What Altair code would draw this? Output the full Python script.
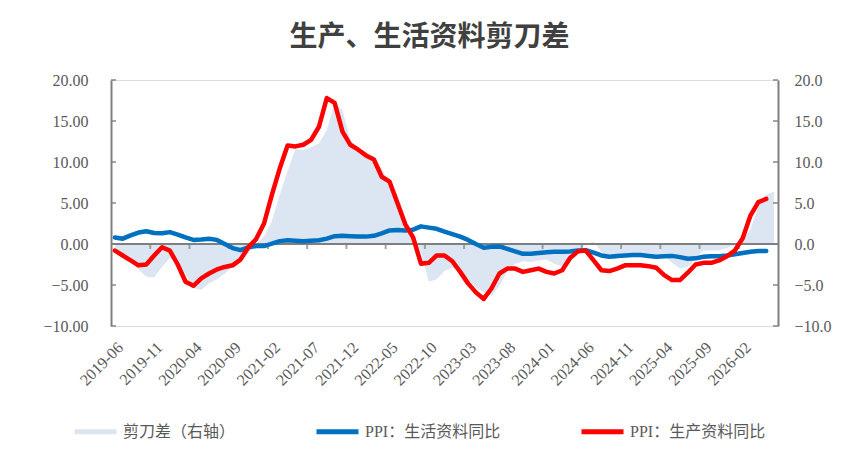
import altair as alt
import pandas as pd

# Monthly categories on the horizontal axis
MONTHS = list(pd.period_range("2019-06", periods=85, freq="M").strftime("%Y-%m"))
# Month labels shown on the category axis (every fifth month)
MONTH_TICKS = ["2019-06", "2019-11", "2020-04", "2020-09", "2021-02", "2021-07",
               "2021-12", "2022-05", "2022-10", "2023-03", "2023-08", "2024-01",
               "2024-06", "2024-11", "2025-04", "2025-09", "2026-02"]

S_SPREAD = "剪刀差（右轴）"
S_LIVING = "PPI：生活资料同比"
S_PROD = "PPI：生产资料同比"

# PPI: producer goods, YoY %
PRODUCER = [-0.8, -1.4, -2.0, -2.6, -2.5, -1.4, -0.4, -0.8, -2.5, -4.6,
            -5.1, -4.2, -3.6, -3.1, -2.8, -2.6, -1.9, -0.4, 0.6, 2.5,
            6.0, 9.2, 12.0, 11.9, 12.1, 12.7, 14.3, 17.8, 17.2, 13.7,
            12.1, 11.5, 10.8, 10.3, 8.2, 7.6, 5.0, 2.4, 0.8, -2.4,
            -2.3, -1.4, -1.4, -2.1, -3.4, -4.8, -5.9, -6.7, -5.4, -3.6,
            -3.0, -3.0, -3.4, -3.2, -3.0, -3.4, -3.6, -3.2, -1.7, -0.9,
            -0.8, -2.0, -3.2, -3.3, -3.0, -2.6, -2.6, -2.6, -2.7, -2.9,
            -3.8, -4.4, -4.4, -3.5, -2.5, -2.3, -2.3, -2.0, -1.5, -0.8,
            0.7, 3.5, 5.1, 5.5]

# PPI: consumer goods, YoY %
CONSUMER = [0.8, 0.65, 1.05, 1.4, 1.55, 1.35, 1.3, 1.45, 1.15, 0.8,
            0.5, 0.55, 0.65, 0.5, 0.0, -0.5, -0.75, -0.4, -0.25, -0.25,
            0.05, 0.35, 0.45, 0.4, 0.35, 0.4, 0.45, 0.65, 0.95, 1.0,
            0.95, 0.9, 0.9, 1.0, 1.3, 1.65, 1.7, 1.65, 1.75, 2.15,
            2.0, 1.85, 1.5, 1.2, 0.9, 0.5, 0.0, -0.45, -0.35, -0.3,
            -0.6, -0.9, -1.2, -1.2, -1.1, -1.0, -0.95, -0.95, -0.9, -0.8,
            -0.75, -1.05, -1.4, -1.55, -1.45, -1.4, -1.35, -1.35, -1.45, -1.55,
            -1.5, -1.45, -1.6, -1.8, -1.75, -1.55, -1.5, -1.5, -1.4, -1.25,
            -1.1, -0.95, -0.85, -0.85]

# Scissors gap (right axis)
SPREAD = [-0.9, -1.6, -2.1, -3.1, -4.0, -4.1, -2.8, -1.7, -2.3, -3.7,
          -5.4, -5.6, -4.8, -4.3, -3.6, -2.8, -2.1, -1.2, 0.0, 0.9,
          2.8, 6.0, 8.9, 11.6, 11.5, 11.8, 12.3, 13.9, 17.2, 16.3,
          12.7, 11.2, 10.6, 9.9, 9.3, 6.9, 6.0, 3.3, 0.8, -1.0,
          -4.6, -4.3, -3.3, -2.9, -3.3, -4.3, -5.3, -5.9, -6.3, -5.1,
          -3.3, -2.4, -2.1, -2.2, -2.0, -1.9, -2.4, -2.7, -2.3, -0.8,
          -0.1, 0.3, -1.0, -1.8, -1.8, -1.6, -1.2, -1.3, -1.3, -1.3,
          -1.4, -2.3, -3.0, -2.8, -1.7, -0.8, -0.8, -0.8, -0.5, -0.1,
          0.5, 1.8, 4.5, 6.0, 6.4]

Y_TICKS = [-10, -5, 0, 5, 10, 15, 20]

GRAY = "#7f7f7f"
TEXT = "#595959"
FONT = "Liberation Serif, Noto Sans CJK SC"

living_df = pd.DataFrame({"m": MONTHS[:len(CONSUMER)], "v": CONSUMER, "s": S_LIVING})
prod_df = pd.DataFrame({"m": MONTHS[:len(PRODUCER)], "v": PRODUCER, "s": S_PROD})
spread_df = pd.DataFrame({"m": MONTHS[:len(SPREAD)], "v": SPREAD})
ytick_df = pd.DataFrame({"v": Y_TICKS})
# tick marks on the zero line sit at the left edge of each labelled month
xtick_df = pd.DataFrame({"m": MONTH_TICKS[1:]})

xs = alt.Scale(type="band", domain=MONTHS, paddingInner=0, paddingOuter=0)
ys = alt.Scale(domain=[-10, 20], nice=False, zero=False)

color_scale = alt.Scale(domain=[S_SPREAD, S_LIVING, S_PROD],
                        range=["#dce6f2", "#0070c0", "#ff0000"])

legend = alt.Legend(title=None, orient="none", legendX=-39, legendY=328,
                    direction="horizontal", symbolType="stroke",
                    symbolStrokeWidth=5, symbolSize=1764, labelFontSize=16,
                    labelColor=TEXT, labelFont=FONT, columnPadding=70,
                    labelOffset=4, symbolOpacity=1)

x_axis = alt.Axis(values=MONTH_TICKS, orient="bottom", labelAngle=-45,
                  domain=False, ticks=False, grid=False, title=None,
                  labelFontSize=16, labelColor=TEXT, labelFont=FONT,
                  labelPadding=13)

left_axis = alt.Axis(orient="left", values=Y_TICKS, format=".2f", title=None,
                     grid=False, ticks=False, domainColor=GRAY, domainWidth=2,
                     labelPadding=23, labelFontSize=16, labelColor=TEXT,
                     labelFont=FONT)
right_axis = alt.Axis(orient="right", values=Y_TICKS, format=".1f", title=None,
                      grid=False, ticks=False, domainColor=GRAY, domainWidth=2,
                      labelPadding=16, labelFontSize=16, labelColor=TEXT,
                      labelFont=FONT)

area = alt.Chart(spread_df).mark_area(color="#dce6f2").encode(
    x=alt.X("m:O", scale=xs, axis=None, bandPosition=0.5),
    y=alt.Y("v:Q", scale=ys, axis=right_axis),
)

zero_line = alt.Chart(alt.Data(values=[{}])).mark_rule(
    color=GRAY, strokeWidth=2).encode(
    y=alt.YDatum(0, axis=None),
    x=alt.value(0),
    x2=alt.value("width"),
)

# tick marks on the zero line; this layer also carries the month labels
x_ticks = alt.Chart(xtick_df).mark_tick(
    orient="vertical", size=5, thickness=2, color=GRAY, yOffset=2.5).encode(
    x=alt.X("m:O", scale=xs, axis=x_axis, bandPosition=0),
    y=alt.YDatum(0, axis=None),
)

left_ticks = alt.Chart(ytick_df).mark_tick(
    orient="horizontal", size=5, thickness=2, color=GRAY, xOffset=2.5).encode(
    y=alt.Y("v:Q", axis=None),
    x=alt.value(0),
)
right_ticks = alt.Chart(ytick_df).mark_tick(
    orient="horizontal", size=5, thickness=2, color=GRAY, xOffset=-2.5).encode(
    y=alt.Y("v:Q", axis=None),
    x=alt.value("width"),
)

line_style = dict(strokeWidth=4.5, strokeCap="round", strokeJoin="round")

living = alt.Chart(living_df).mark_line(**line_style).encode(
    x=alt.X("m:O", scale=xs, axis=None, bandPosition=0.5),
    y=alt.Y("v:Q", scale=ys, axis=left_axis),
    color=alt.Color("s:N", scale=color_scale, legend=legend),
)

producer = alt.Chart(prod_df).mark_line(**line_style).encode(
    x=alt.X("m:O", scale=xs, axis=None, bandPosition=0.5),
    y=alt.Y("v:Q", scale=ys, axis=None),
    color=alt.Color("s:N", scale=color_scale, legend=legend),
)

chart = alt.layer(
    area, zero_line, x_ticks, left_ticks, right_ticks, living, producer
).resolve_axis(y="independent", x="independent").properties(
    width=667,
    height=246,
    autosize=alt.AutoSizeParams(type="none"),
    padding={"left": 111, "top": 80, "right": 81, "bottom": 149},
    title=alt.TitleParams("生产、生活资料剪刀差", fontSize=28, fontWeight="bold",
                          color="#404040", font="Noto Sans CJK SC",
                          anchor="middle", dx=-15, offset=20),
).configure_view(strokeWidth=0).configure(background="white")

chart.save("out.html", embed_options={"renderer": "svg", "actions": False})
